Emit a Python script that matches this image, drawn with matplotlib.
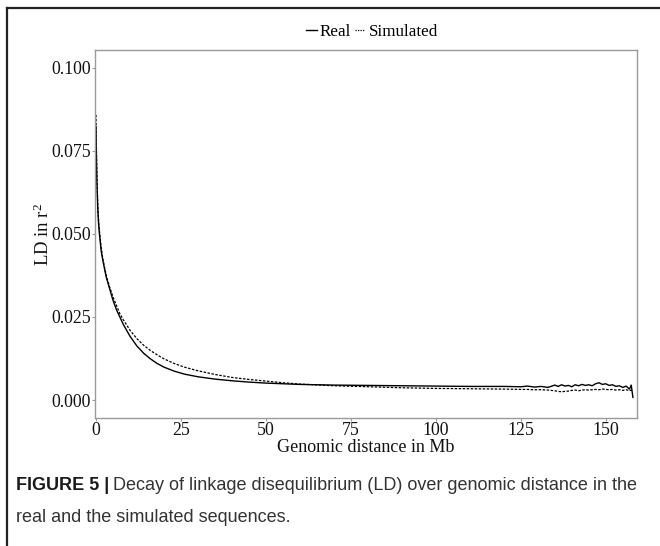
import matplotlib
matplotlib.use("Agg")
import matplotlib.pyplot as plt
from matplotlib.lines import Line2D

plt.rcParams["mathtext.fontset"] = "custom"
plt.rcParams["mathtext.rm"] = "Liberation Serif"
plt.rcParams["mathtext.it"] = "Liberation Serif:italic"

# Mean r^2 by genomic distance (Mb)
dist_mb = [0, 0.1, 0.25, 0.5, 0.75, 1, 1.5, 2, 3, 4, 5, 6, 7, 8, 10, 12, 14,
           16, 18, 20, 23, 26, 30, 35, 40, 45, 50, 55, 60, 70, 80, 90, 100,
           110, 120, 125, 127, 129, 131, 133, 135, 136, 137, 138, 139, 140,
           141, 142, 143, 144, 145, 146, 147, 148, 149, 150, 151, 152, 153,
           154, 155, 156, 157, 157.5, 158]
ld_real = [0.0823, 0.074, 0.066, 0.058, 0.053, 0.050, 0.045, 0.042, 0.037,
           0.0335, 0.030, 0.0272, 0.025, 0.0228, 0.0192, 0.0163, 0.0141,
           0.0124, 0.011, 0.0099, 0.0087, 0.0078, 0.0070, 0.0063, 0.0058,
           0.0054, 0.0051, 0.0049, 0.0047, 0.0045, 0.0044, 0.0043, 0.0042,
           0.0041, 0.0041, 0.0040, 0.0042, 0.0039, 0.0041, 0.0038, 0.0045,
           0.0041, 0.0046, 0.0042, 0.0044, 0.0040, 0.0046, 0.0043, 0.0047,
           0.0044, 0.0046, 0.0043, 0.0049, 0.0052, 0.0047, 0.0049, 0.0044,
           0.0046, 0.0041, 0.0043, 0.0038, 0.0042, 0.0033, 0.0045, 0.0008]
ld_sim = [0.0858, 0.077, 0.068, 0.059, 0.054, 0.051, 0.046, 0.0425, 0.0375,
          0.034, 0.031, 0.0285, 0.026, 0.0242, 0.021, 0.0185, 0.0165, 0.0149,
          0.0136, 0.0124, 0.011, 0.0099, 0.0088, 0.0077, 0.0068, 0.0062,
          0.0057, 0.0052, 0.0048, 0.0043, 0.0040, 0.0037, 0.0035, 0.0034,
          0.0033, 0.0032, 0.0032, 0.0031, 0.0031, 0.0030, 0.0028, 0.0026,
          0.0025, 0.0026, 0.0027, 0.0029, 0.0030, 0.0028, 0.0030, 0.0031,
          0.0030, 0.0031, 0.0032, 0.0031, 0.0033, 0.0032, 0.0031, 0.0032,
          0.0030, 0.0031, 0.0029, 0.0031, 0.0028, 0.0030, 0.0027]

x_ticks = [0, 25, 50, 75, 100, 125, 150]
y_ticks = [0.000, 0.025, 0.050, 0.075, 0.100]
y_tick_labels = ["0.000", "0.025", "0.050", "0.075", "0.100"]
series_names = ["Real", "Simulated"]

W, H = 660, 546
fig = plt.figure(figsize=(W / 100, H / 100), dpi=100)
serif = "Liberation Serif"
sans = "Liberation Sans"

def px(x0, y0, x1, y1):
    return [x0 / W, 1 - y1 / H, (x1 - x0) / W, (y1 - y0) / H]

ax = fig.add_axes(px(95, 50, 637, 418))
ax.plot(dist_mb, ld_real, color="black", lw=1.0, ls="-")
ax.plot(dist_mb, ld_sim, color="black", lw=0.9, ls=(0, (2, 1.2)))

ax.set_xlim(-0.3, 159.2)
ax.set_ylim(-0.0054, 0.1053)
ax.set_xticks(x_ticks)
ax.set_xticklabels([str(t) for t in x_ticks])
ax.set_yticks(y_ticks)
ax.set_yticklabels(y_tick_labels)
for s in ax.spines.values():
    s.set_color("#9a9a9a")
    s.set_linewidth(1.0)
ax.tick_params(length=2.5, width=0.8, color="#9a9a9a", labelcolor="#111111",
               labelsize=12.8)
ax.tick_params(axis="x", pad=0.2)
ax.tick_params(axis="y", pad=0.6)
for lab in ax.get_xticklabels() + ax.get_yticklabels():
    lab.set_fontfamily(serif)

ax.set_xlabel("Genomic distance in Mb", family=serif, fontsize=13,
              color="#111111", labelpad=0)
ax.set_ylabel(r"LD in r$^{2}$", family=serif, fontsize=13.5, color="#111111",
              labelpad=-1.5)

# legend across the top
handles = [Line2D([], [], color="black", lw=1.0, ls="-"),
           Line2D([], [], color="black", lw=0.9, ls=(0, (1, 1)))]
fig.legend(handles, series_names, loc="center", bbox_to_anchor=(372 / W, 1 - 32 / H),
           ncol=2, frameon=False, handlelength=0.6, handletextpad=0.2,
           columnspacing=0.2, prop={"family": serif, "size": 12.3})

# page border
fig.add_artist(Line2D([7 / W, 7 / W], [0, 1 - 8 / H], transform=fig.transFigure,
                      color="#222222", lw=1.6))
fig.add_artist(Line2D([7 / W, 1], [1 - 8 / H, 1 - 8 / H], transform=fig.transFigure,
                      color="#222222", lw=1.6))

# caption
cap_size = 12.95
head = fig.text(16 / W, 1 - 490 / H, "FIGURE 5 |", family=sans, weight="bold",
                fontsize=cap_size, color="#1a1a1a", va="baseline")
renderer = fig.canvas.get_renderer()
head_right = head.get_window_extent(renderer).x1
fig.text(head_right / W + 4 / W, 1 - 490 / H,
         "Decay of linkage disequilibrium (LD) over genomic distance in the",
         family=sans, fontsize=cap_size, color="#333333", va="baseline")
fig.text(16 / W, 1 - 522 / H, "real and the simulated sequences.",
         family=sans, fontsize=cap_size, color="#333333", va="baseline")

fig.savefig("out.png", dpi=100, facecolor="white")
